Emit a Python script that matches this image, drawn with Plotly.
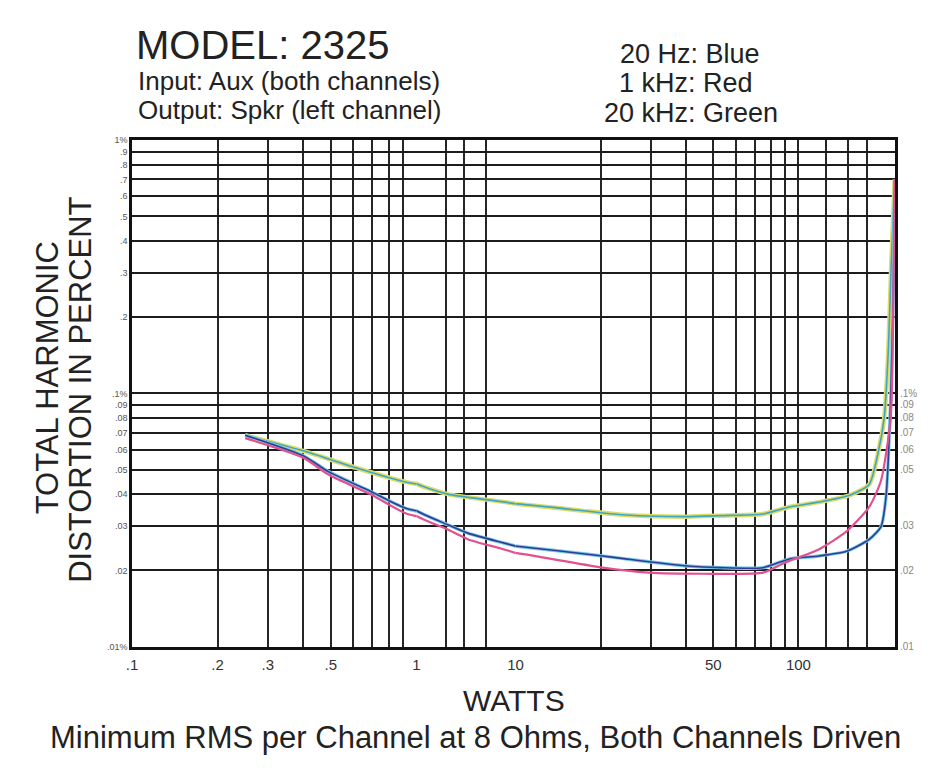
import math
import plotly.graph_objects as go

# page has an 8 px body margin; keep the figure inside the 930x770 window
PAGE_OFF = 8
W, H = 930 - 2 * PAGE_OFF, 770 - 2 * PAGE_OFF
FONT = "Liberation Sans, Arial, sans-serif"

# ---------------- data (watts, THD %) ----------------
watts_20hz = [0.25, 0.40, 0.49, 0.70, 0.93, 2.07, 3.34, 10.1, 20.3, 24.5, 40.5, 53, 75, 93, 118, 148, 178, 196, 204, 212, 217, 219]
thd_20hz = [0.0684, 0.0567, 0.0491, 0.0407, 0.0350, 0.0303, 0.0280, 0.0249, 0.0228, 0.0222, 0.0208, 0.0205, 0.0205, 0.0222, 0.0228, 0.0238, 0.0265, 0.0298, 0.0389, 0.0952, 0.278, 0.70]

watts_1khz = [0.25, 0.40, 0.49, 0.70, 0.93, 2.07, 3.34, 10.1, 20.3, 29.5, 46.5, 75, 89, 118, 148, 178, 196, 212, 217, 219]
thd_1khz = [0.0666, 0.0557, 0.0478, 0.0396, 0.0334, 0.0290, 0.0265, 0.0234, 0.0205, 0.0196, 0.0194, 0.0196, 0.0214, 0.0242, 0.0285, 0.0356, 0.0453, 0.080, 0.28, 0.70]

watts_20khz = [0.25, 0.40, 0.61, 0.93, 2.07, 10.1, 24.5, 40.5, 53, 75, 93, 118, 152, 178, 192, 201, 208, 213, 219]
thd_20khz = [0.0684, 0.0593, 0.0509, 0.0445, 0.0400, 0.0366, 0.0331, 0.0326, 0.0329, 0.0334, 0.0356, 0.0372, 0.0396, 0.0437, 0.0593, 0.0796, 0.149, 0.324, 0.70]

# graph-paper grid (three x segments, as on the printed sheet)
x_grid_seg1 = [0.1, 0.2, 0.3, 0.4, 0.5, 0.6, 0.7, 0.8, 0.9, 1.0]
x_labels_seg1 = [".1", ".2", ".3", "", ".5", "", "", "", "", ""]
x_grid_seg2 = [1, 2, 3, 5, 10]
x_labels_seg2 = ["1", "", "", "", ""]
x_grid_seg3 = [10, 20, 30, 40, 50, 60, 70, 80, 90, 100, 125, 150, 175]
x_labels_seg3 = ["10", "", "", "", "50", "", "", "", "", "100", "", "", ""]
x_max_watts = 220

y_grid = [0.01, 0.02, 0.03, 0.04, 0.05, 0.06, 0.07, 0.08, 0.09,
          0.1, 0.2, 0.3, 0.4, 0.5, 0.6, 0.7, 0.8, 0.9, 1.0]
y_labels_left = [".01%", ".02", ".03", ".04", ".05", ".06", ".07", ".08", ".09",
                 ".1%", ".2", ".3", ".4", ".5", ".6", ".7", ".8", ".9", "1%"]
y_labels_right = [".01", ".02", ".03", "", ".05", ".06", ".07", ".08", ".09",
                  ".1%", "", "", "", "", "", "", "", "", ""]

# ---------------- layout geometry (window pixels) ----------------
PX_L, PX_1, PX_10, PX_R = 125, 412, 512, 895
PX_T, PX_B = 137, 651


def fx(px):
    return (px - PAGE_OFF) / W


def fy(py):
    return 1 - (py - PAGE_OFF) / H


fig = go.Figure()

series = [
    (watts_20khz, thd_20khz, "#dcdc6a", 4.5),
    (watts_20khz, thd_20khz, "#3fa6c6", 1.6),
    (watts_20hz, thd_20hz, "#78c8e6", 3.4),
    (watts_20hz, thd_20hz, "#2f3d92", 1.6),
    (watts_1khz, thd_1khz, "#e2508f", 2.2),
]

for seg in (1, 2, 3):
    xa = "x" if seg == 1 else f"x{seg}"
    ya = "y" if seg == 1 else f"y{seg}"
    for w, t, c, lw in series:
        fig.add_trace(go.Scatter(
            x=w, y=t, mode="lines", xaxis=xa, yaxis=ya,
            line=dict(color=c, width=lw, shape="spline", smoothing=0.6),
            showlegend=False, hoverinfo="skip"))

common_x = dict(type="log", tickmode="array", showgrid=True, gridcolor="#262626",
                gridwidth=1.6, showline=True, linecolor="#111111", linewidth=2.5,
                mirror=True, ticks="outside", ticklen=3, tickcolor="rgba(0,0,0,0)",
                zeroline=False, fixedrange=True,
                tickfont=dict(family=FONT, size=15, color="#333333"))
common_y = dict(type="log", range=[-2, 0], tickmode="array", tickvals=y_grid,
                domain=[fy(PX_B), fy(PX_T)], showgrid=True, gridcolor="#1c1c1c",
                gridwidth=1.8, linecolor="#111111", linewidth=2.5,
                mirror=False, ticks="", zeroline=False, fixedrange=True)

fig.update_layout(
    width=W, height=H,
    margin=dict(l=0, r=0, t=0, b=0),
    paper_bgcolor="white", plot_bgcolor="white",
    showlegend=False,
    xaxis=dict(common_x, domain=[fx(PX_L), fx(PX_1)], anchor="y", range=[-1, 0],
               tickvals=x_grid_seg1, ticktext=x_labels_seg1),
    xaxis2=dict(common_x, domain=[fx(PX_1), fx(PX_10)], anchor="y2", range=[0, 1],
                tickvals=x_grid_seg2, ticktext=x_labels_seg2),
    xaxis3=dict(common_x, domain=[fx(PX_10), fx(PX_R)], anchor="y3",
                range=[1, math.log10(x_max_watts)],
                tickvals=x_grid_seg3, ticktext=x_labels_seg3),
    yaxis=dict(common_y, anchor="x", showline=True, ticktext=y_labels_left,
               tickfont=dict(family=FONT, size=9, color="#555555")),
    yaxis2=dict(common_y, anchor="x2", showline=False, showticklabels=False),
    yaxis3=dict(common_y, anchor="x3", side="right", showline=True,
                ticktext=y_labels_right,
                tickfont=dict(family=FONT, size=10, color="#888888")),
)

# heavier rule at 0.1 %
fig.add_shape(type="line", xref="paper", yref="y", x0=fx(PX_L), x1=fx(PX_R),
              y0=-1, y1=-1, line=dict(color="#111111", width=3))

TXT = "#222222"


def note(text, px, py, size, xanchor="left", angle=0):
    fig.add_annotation(text=text, x=fx(px), y=fy(py), xref="paper", yref="paper",
                       xanchor=xanchor, yanchor="middle", showarrow=False,
                       textangle=angle, font=dict(family=FONT, size=size, color=TXT))


note("MODEL: 2325", 127, 40, 40)
note("Input: Aux (both channels)", 129, 77, 26)
note("Output: Spkr (left channel)", 129, 106, 26)
note("20 Hz: Blue", 688, 50, 27, "center")
note("1 kHz: Red", 684, 79, 27, "center")
note("20 kHz: Green", 689, 109, 27, "center")
note("TOTAL HARMONIC", 40, 378, 31, "center", -90)
note("DISTORTION IN PERCENT", 73, 390, 31, "center", -90)
note("WATTS", 510, 706, 30, "center")
note("Minimum RMS per Channel at 8 Ohms, Both Channels Driven", 472, 743, 31, "center")

fig.write_html("out.html")
